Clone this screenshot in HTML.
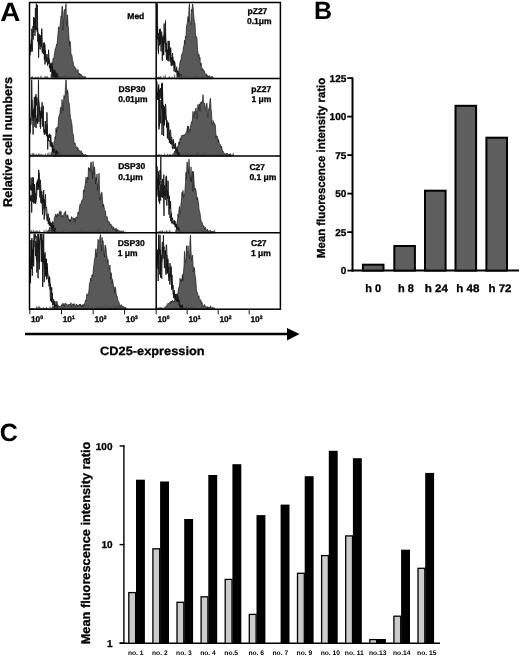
<!DOCTYPE html>
<html><head><meta charset="utf-8"><style>
html,body{margin:0;padding:0;background:#fff;}
svg{display:block;filter:grayscale(1);text-rendering:geometricPrecision;}
</style></head><body>
<svg width="520" height="657" viewBox="0 0 520 657">
<rect width="520" height="657" fill="#fff"/>
<text transform="translate(0.3,20.6) scale(1.05,1)" font-size="26.5" font-family="Liberation Sans, sans-serif" font-weight="bold">A</text>
<path d="M51.0,78.6L51.00,76.0L51.50,72.6L52.00,68.8L52.50,65.0L53.00,58.2L53.50,58.2L54.00,57.6L54.50,53.3L55.00,50.5L55.50,47.8L56.00,48.0L56.50,44.1L57.00,45.3L57.50,38.4L58.00,33.9L58.50,26.8L59.00,28.8L59.50,27.9L60.00,26.2L60.50,20.5L61.00,16.0L61.50,16.9L62.00,6.2L62.50,6.5L63.00,29.7L63.50,22.9L64.00,11.0L64.50,10.1L65.00,9.1L65.50,10.7L66.00,3.7L66.50,25.2L67.00,23.1L67.50,14.7L68.00,24.7L68.50,28.7L69.00,38.1L69.50,45.5L70.00,41.1L70.50,44.4L71.00,54.7L71.50,54.6L72.00,55.7L72.50,60.9L73.00,61.6L73.50,64.7L74.00,65.6L74.50,67.7L75.00,67.1L75.50,68.6L76.00,68.4L76.50,71.6L77.00,71.7L77.50,70.5L78.00,69.4L78.50,74.0L79.00,75.2L79.50,73.1L80.00,73.8L80.50,75.4L81.00,74.3L81.50,74.8L82.00,75.7L82.50,77.0L83.00,76.3L83.50,77.4L84.00,77.2L84.50,76.8L84.5,78.6Z" fill="#595959" stroke="#1a1a1a" stroke-width="0.7" stroke-linejoin="bevel"/>
<path d="M29.80,54.6L30.20,55.2L30.60,44.0L31.00,52.0L31.40,50.1L31.80,28.8L32.20,36.2L32.60,34.6L33.00,26.2L33.40,32.7L33.80,30.2L34.20,20.7L34.60,22.8L35.00,35.8L35.40,8.2L35.80,23.9L36.20,30.2L36.60,26.4L37.00,24.6L37.40,4.9L37.80,41.4L38.20,33.1L38.60,57.6L39.00,40.5L39.40,34.3L39.80,47.7L40.20,49.4L40.60,38.4L41.00,37.9L41.40,37.2L41.80,28.6L42.20,45.7L42.60,52.2L43.00,48.6L43.40,43.3L43.80,47.5L44.20,42.3L44.60,45.3L45.00,64.5L45.40,50.4L45.80,59.7L46.20,62.1L46.60,55.2L47.00,54.0L47.40,56.4L47.80,61.3L48.20,63.9L48.60,49.8L49.00,59.8L49.40,68.1L49.80,66.3L50.20,63.4L50.60,71.8L51.00,63.6L51.40,67.5L51.80,67.3L52.20,66.3L52.60,75.9L53.00,72.0L53.40,76.6L53.80,69.9L54.20,72.1L54.60,74.1L55.00,70.5L55.40,78.6L55.80,72.2L56.20,74.7L56.60,77.3L57.00,76.4L57.40,72.9L57.80,78.5L58.20,78.1L58.60,76.7" fill="none" stroke="#141414" stroke-width="0.9" stroke-linejoin="bevel"/>
<path d="M30.00,51.7L30.40,44.2L30.80,49.3L31.20,41.0L31.60,39.2L32.00,46.7L32.40,51.4L32.80,34.2L33.20,39.5L33.60,17.1L34.00,27.6L34.40,17.9L34.80,19.2L35.20,18.2L35.60,29.9L36.00,12.3L36.40,3.7L36.80,19.7L37.20,32.2L37.60,27.8L38.00,34.7L38.40,43.3L38.80,40.2L39.20,44.1L39.60,36.3L40.00,44.9L40.40,44.1L40.80,35.0L41.20,47.2L41.60,31.9L42.00,50.3L42.40,53.1L42.80,52.8L43.20,48.6L43.60,54.1L44.00,45.6L44.40,59.8L44.80,44.4L45.20,54.8L45.60,58.6L46.00,57.7L46.40,59.8L46.80,60.1L47.20,62.2L47.60,65.5L48.00,58.9L48.40,62.5L48.80,58.0L49.20,63.1L49.60,60.6L50.00,64.6L50.40,71.5L50.80,66.1L51.20,70.5L51.60,66.1L52.00,62.6L52.40,76.5L52.80,69.2L53.20,73.3L53.60,69.8L54.00,77.0L54.40,76.1L54.80,72.6L55.20,75.9L55.60,75.1L56.00,75.6L56.40,76.1L56.80,75.1L57.20,77.5L57.60,78.0L58.00,75.9L58.40,78.6L58.80,76.0" fill="none" stroke="#141414" stroke-width="0.9" stroke-linejoin="bevel"/>
<path d="M30.5,78.6L30.5,78.2L31.0,78.0L31.5,76.4L32.0,77.8L32.5,76.0L33.0,78.3L33.5,78.3L34.0,77.6L34.5,77.7L35.0,78.5L35.5,76.9L36.0,76.9L36.5,77.8L37.0,77.6L37.5,77.0L38.0,76.5L38.5,77.3L39.0,78.1L39.5,78.0L40.0,78.5L40.5,77.3L41.0,75.4L41.5,77.2L42.0,78.2L42.5,78.5L43.0,77.9L43.5,77.4L44.0,78.3L44.5,78.3L45.0,75.8L45.5,78.5L46.0,76.6L46.5,75.9L47.0,78.5L47.5,76.2L48.0,77.5L48.5,78.0L49.0,78.2L49.5,78.6L50.0,78.3L50.5,78.3L51.0,78.4L51.5,77.9L52.0,77.3L52.5,78.6L53.0,76.3L53.5,78.2L54.0,77.7L54.5,78.4L55.0,78.2L55.5,77.7L56.0,77.6L56.5,78.2L57.0,77.8L57.5,77.1L58.0,78.0L58.5,74.8L59.0,78.5L59.5,77.1L60.0,76.7L60.5,78.4L61.0,77.4L61.5,76.8L62.0,78.4L62.5,76.9L63.0,78.2L63.5,78.3L64.0,78.0L64.5,77.8L65.0,75.4L65.5,78.3L66.0,78.6L66.5,76.5L67.0,75.3L67.5,76.5L68.0,77.0L68.5,76.8L69.0,76.9L69.5,77.3L70.0,77.6L70.5,77.7L71.0,78.2L71.5,76.6L72.0,77.7L72.5,76.1L73.0,76.7L73.5,77.4L74.0,78.4L74.5,77.4L75.0,78.2L75.5,77.5L76.0,77.0L76.5,77.2L77.0,77.7L77.5,76.2L78.0,76.3L78.5,75.2L79.0,77.4L79.5,78.5L80.0,76.5L80.5,76.4L81.0,75.6L81.5,76.7L82.0,77.7L82.5,77.7L83.0,77.7L83.5,78.2L84.0,76.7L84.5,77.7L85.0,75.8L85.5,76.8L86.0,77.1L86.5,78.6L86.5,78.6Z" fill="#666" stroke="#333" stroke-width="0.3"/>
<path d="M176.5,78.6L176.50,78.0L177.00,76.9L177.50,75.2L178.00,75.5L178.50,72.8L179.00,68.4L179.50,66.7L180.00,62.1L180.50,60.2L181.00,60.9L181.50,54.6L182.00,54.6L182.50,53.0L183.00,51.4L183.50,46.4L184.00,46.6L184.50,40.2L185.00,44.1L185.50,36.0L186.00,37.8L186.50,25.4L187.00,25.4L187.50,21.1L188.00,16.5L188.50,21.9L189.00,7.6L189.50,3.7L190.00,20.9L190.50,24.2L191.00,24.8L191.50,9.5L192.00,11.4L192.50,4.0L193.00,6.0L193.50,12.8L194.00,18.5L194.50,22.5L195.00,23.0L195.50,35.3L196.00,37.1L196.50,36.6L197.00,38.2L197.50,49.7L198.00,52.6L198.50,56.2L199.00,54.4L199.50,58.8L200.00,57.5L200.50,65.7L201.00,63.0L201.50,66.1L202.00,70.6L202.50,68.6L203.00,68.8L203.50,70.7L204.00,70.4L204.50,71.0L205.00,73.1L205.50,74.6L206.00,75.8L206.50,73.8L207.00,75.8L207.50,75.3L208.00,77.8L208.50,75.9L209.00,77.1L209.50,76.1L210.00,76.6L210.50,77.1L211.00,76.9L211.50,77.5L212.00,76.1L212.50,78.4L212.5,78.6Z" fill="#595959" stroke="#1a1a1a" stroke-width="0.7" stroke-linejoin="bevel"/>
<path d="M156.90,50.7L157.30,3.7L157.70,34.0L158.10,39.8L158.50,53.9L158.90,37.9L159.30,45.5L159.70,39.7L160.10,34.6L160.50,44.3L160.90,42.1L161.30,34.1L161.70,38.7L162.10,39.0L162.50,46.2L162.90,36.7L163.30,35.6L163.70,55.0L164.10,23.5L164.50,33.6L164.90,42.8L165.30,32.8L165.70,39.2L166.10,51.4L166.50,59.8L166.90,50.8L167.30,49.7L167.70,58.6L168.10,40.9L168.50,48.3L168.90,61.3L169.30,46.9L169.70,55.2L170.10,48.1L170.50,52.3L170.90,64.0L171.30,66.1L171.70,59.3L172.10,60.1L172.50,53.0L172.90,59.1L173.30,65.3L173.70,60.8L174.10,71.5L174.50,61.3L174.90,62.6L175.30,66.2L175.70,67.7L176.10,72.4L176.50,69.1L176.90,70.0L177.30,72.7L177.70,71.5L178.10,72.9L178.50,74.8L178.90,72.8L179.30,74.0L179.70,74.3L180.10,74.6L180.50,73.9L180.90,74.5L181.30,76.0" fill="none" stroke="#141414" stroke-width="0.9" stroke-linejoin="bevel"/>
<path d="M157.10,39.1L157.50,26.5L157.90,39.5L158.30,34.8L158.70,33.2L159.10,40.8L159.50,29.2L159.90,42.2L160.30,28.8L160.70,35.3L161.10,51.3L161.50,31.6L161.90,33.2L162.30,60.7L162.70,42.0L163.10,38.1L163.50,55.2L163.90,45.7L164.30,41.9L164.70,32.4L165.10,39.6L165.50,20.6L165.90,52.1L166.30,42.9L166.70,51.4L167.10,49.7L167.50,59.6L167.90,60.9L168.30,56.1L168.70,45.1L169.10,40.9L169.50,45.2L169.90,49.6L170.30,61.5L170.70,47.7L171.10,56.6L171.50,59.2L171.90,57.4L172.30,65.3L172.70,57.0L173.10,62.0L173.50,60.0L173.90,61.8L174.30,62.7L174.70,69.0L175.10,69.7L175.50,72.0L175.90,70.9L176.30,69.0L176.70,66.8L177.10,76.1L177.50,70.9L177.90,71.4L178.30,76.2L178.70,78.0L179.10,76.7L179.50,75.5L179.90,75.7L180.30,78.6L180.70,77.7L181.10,78.6L181.50,78.6" fill="none" stroke="#141414" stroke-width="0.9" stroke-linejoin="bevel"/>
<path d="M157.2,78.6L157.2,77.2L157.7,77.7L158.2,77.1L158.7,76.7L159.2,76.7L159.7,77.4L160.2,76.7L160.7,75.9L161.2,78.2L161.7,77.2L162.2,78.0L162.7,78.5L163.2,77.4L163.7,75.7L164.2,78.5L164.7,78.2L165.2,74.7L165.7,77.8L166.2,77.7L166.7,77.9L167.2,78.4L167.7,78.2L168.2,77.3L168.7,78.1L169.2,76.6L169.7,76.4L170.2,78.2L170.7,78.3L171.2,77.5L171.7,77.9L172.2,76.5L172.7,77.3L173.2,78.6L173.7,78.1L174.2,77.3L174.7,74.0L175.2,77.7L175.7,78.4L176.2,78.3L176.7,78.0L177.2,76.6L177.7,77.9L178.2,76.6L178.7,76.9L179.2,77.0L179.7,77.0L180.2,77.6L180.7,74.5L181.2,78.0L181.7,77.2L182.2,75.7L182.7,76.7L183.2,77.7L183.7,77.1L184.2,76.8L184.7,77.6L185.2,78.3L185.7,76.4L186.2,76.0L186.7,77.8L187.2,77.2L187.7,76.3L188.2,76.7L188.7,77.2L189.2,77.5L189.7,78.3L190.2,77.8L190.7,77.7L191.2,78.2L191.7,78.3L192.2,78.0L192.7,77.4L193.2,77.7L193.7,77.9L194.2,78.0L194.7,76.8L195.2,76.3L195.7,78.5L196.2,74.0L196.7,77.6L197.2,77.3L197.7,77.9L198.2,78.2L198.7,77.3L199.2,77.4L199.7,78.4L200.2,78.4L200.7,78.4L201.2,77.7L201.7,77.1L202.2,77.3L202.7,78.2L203.2,78.1L203.7,76.9L204.2,77.5L204.7,77.8L205.2,77.6L205.7,78.1L206.2,76.7L206.7,77.7L207.2,77.4L207.7,77.5L208.2,78.3L208.7,77.9L209.2,75.0L209.7,76.9L210.2,78.3L210.7,78.1L211.2,77.3L211.7,77.8L212.2,76.5L212.7,77.9L213.2,77.5L213.7,77.4L214.2,77.9L214.7,77.9L214.7,78.6Z" fill="#666" stroke="#333" stroke-width="0.3"/>
<path d="M51.0,155.9L51.00,155.5L51.50,153.7L52.00,151.8L52.50,152.1L53.00,150.2L53.50,148.3L54.00,141.3L54.50,141.4L55.00,136.7L55.50,138.6L56.00,128.2L56.50,132.6L57.00,126.9L57.50,128.4L58.00,127.1L58.50,119.0L59.00,115.7L59.50,115.3L60.00,113.1L60.50,107.4L61.00,112.8L61.50,110.5L62.00,99.4L62.50,104.7L63.00,111.0L63.50,101.6L64.00,95.3L64.50,97.8L65.00,97.0L65.50,85.8L66.00,79.8L66.50,87.3L67.00,94.2L67.50,90.1L68.00,92.4L68.50,102.0L69.00,102.5L69.50,105.3L70.00,113.2L70.50,117.9L71.00,119.3L71.50,122.4L72.00,124.7L72.50,132.8L73.00,133.7L73.50,136.1L74.00,142.8L74.50,143.6L75.00,142.7L75.50,145.7L76.00,146.1L76.50,146.8L77.00,147.5L77.50,147.6L78.00,147.6L78.50,151.0L79.00,149.8L79.50,151.6L80.00,151.9L80.50,152.1L81.00,150.6L81.50,151.3L82.00,154.1L82.50,152.9L83.00,154.1L83.50,154.5L84.00,155.1L84.50,155.0L85.00,155.3L85.50,154.6L85.5,155.9Z" fill="#595959" stroke="#1a1a1a" stroke-width="0.7" stroke-linejoin="bevel"/>
<path d="M29.90,131.7L30.30,133.2L30.70,121.0L31.10,118.4L31.50,106.8L31.90,99.9L32.30,109.0L32.70,121.3L33.10,134.6L33.50,113.2L33.90,107.9L34.30,97.3L34.70,99.5L35.10,118.1L35.50,117.6L35.90,94.2L36.30,105.5L36.70,97.3L37.10,97.4L37.50,123.3L37.90,109.0L38.30,99.9L38.70,100.8L39.10,103.2L39.50,107.9L39.90,111.2L40.30,127.0L40.70,111.2L41.10,117.6L41.50,112.6L41.90,118.3L42.30,111.3L42.70,115.6L43.10,121.2L43.50,122.7L43.90,128.6L44.30,134.8L44.70,129.5L45.10,134.3L45.50,130.5L45.90,132.2L46.30,128.9L46.70,136.3L47.10,124.8L47.50,138.6L47.90,138.0L48.30,134.6L48.70,140.9L49.10,139.9L49.50,142.0L49.90,142.5L50.30,146.5L50.70,135.0L51.10,143.6L51.50,146.8L51.90,142.5L52.30,152.0L52.70,145.1L53.10,149.0L53.50,150.8L53.90,149.2L54.30,148.9L54.70,150.0L55.10,151.8L55.50,153.5L55.90,153.1L56.30,152.8L56.70,154.5L57.10,153.4L57.50,155.9L57.90,154.7" fill="none" stroke="#141414" stroke-width="0.9" stroke-linejoin="bevel"/>
<path d="M30.10,121.5L30.50,118.0L30.90,124.4L31.30,115.5L31.70,79.8L32.10,101.4L32.50,116.9L32.90,110.8L33.30,120.5L33.70,109.3L34.10,117.7L34.50,106.1L34.90,126.8L35.30,96.3L35.70,119.2L36.10,128.1L36.50,118.4L36.90,120.9L37.30,114.9L37.70,123.6L38.10,103.0L38.50,79.8L38.90,121.8L39.30,107.0L39.70,114.8L40.10,113.6L40.50,128.7L40.90,123.5L41.30,107.2L41.70,113.5L42.10,102.3L42.50,126.5L42.90,122.2L43.30,105.8L43.70,128.8L44.10,132.4L44.50,129.0L44.90,133.2L45.30,121.0L45.70,131.3L46.10,133.6L46.50,129.4L46.90,112.4L47.30,122.3L47.70,149.5L48.10,135.2L48.50,140.8L48.90,136.4L49.30,138.0L49.70,133.7L50.10,136.6L50.50,136.6L50.90,141.5L51.30,142.9L51.70,144.9L52.10,142.6L52.50,144.9L52.90,151.9L53.30,150.0L53.70,152.8L54.10,152.2L54.50,152.0L54.90,151.5L55.30,152.3L55.70,155.9L56.10,152.7L56.50,150.2L56.90,153.8L57.30,150.9L57.70,154.6L58.10,152.2" fill="none" stroke="#141414" stroke-width="0.9" stroke-linejoin="bevel"/>
<path d="M30.5,155.9L30.5,154.0L31.0,155.7L31.5,155.8L32.0,153.4L32.5,154.8L33.0,152.7L33.5,153.7L34.0,153.2L34.5,154.9L35.0,155.2L35.5,155.6L36.0,153.7L36.5,154.0L37.0,155.2L37.5,154.8L38.0,155.5L38.5,153.6L39.0,155.4L39.5,154.5L40.0,153.3L40.5,155.2L41.0,155.7L41.5,154.3L42.0,153.9L42.5,155.2L43.0,154.8L43.5,155.2L44.0,155.4L44.5,155.4L45.0,154.3L45.5,153.4L46.0,155.5L46.5,155.6L47.0,155.0L47.5,153.1L48.0,155.9L48.5,154.3L49.0,152.3L49.5,154.8L50.0,155.7L50.5,155.6L51.0,152.1L51.5,154.8L52.0,153.5L52.5,154.8L53.0,154.9L53.5,154.8L54.0,153.6L54.5,154.5L55.0,153.9L55.5,155.6L56.0,155.8L56.5,154.7L57.0,153.6L57.5,155.8L58.0,154.3L58.5,154.0L59.0,154.4L59.5,155.3L60.0,152.8L60.5,155.7L61.0,154.4L61.5,155.4L62.0,154.1L62.5,154.3L63.0,154.8L63.5,155.4L64.0,155.0L64.5,155.4L65.0,154.1L65.5,155.6L66.0,155.3L66.5,154.0L67.0,154.2L67.5,154.8L68.0,155.4L68.5,155.5L69.0,154.4L69.5,154.4L70.0,154.7L70.5,155.4L71.0,155.5L71.5,154.8L72.0,154.8L72.5,154.7L73.0,155.6L73.5,154.3L74.0,155.5L74.5,155.7L75.0,155.2L75.5,155.8L76.0,154.7L76.5,154.0L77.0,153.8L77.5,154.7L78.0,155.7L78.5,153.8L79.0,155.0L79.5,154.0L80.0,154.3L80.5,154.6L81.0,153.6L81.5,154.7L82.0,155.2L82.5,154.5L83.0,154.2L83.5,155.6L84.0,155.9L84.5,155.2L85.0,154.5L85.5,154.5L86.0,154.6L86.5,155.2L87.0,155.4L87.5,155.0L87.5,155.9Z" fill="#666" stroke="#333" stroke-width="0.3"/>
<path d="M173.5,155.9L173.50,155.8L174.00,153.1L174.50,151.0L175.00,151.5L175.50,149.9L176.00,149.2L176.50,147.4L177.00,148.9L177.50,146.3L178.00,146.8L178.50,143.7L179.00,141.8L179.50,144.3L180.00,138.7L180.50,140.0L181.00,137.0L181.50,136.3L182.00,135.1L182.50,135.7L183.00,135.4L183.50,134.7L184.00,135.8L184.50,134.9L185.00,134.1L185.50,134.4L186.00,132.5L186.50,132.0L187.00,129.8L187.50,125.9L188.00,132.8L188.50,126.1L189.00,128.8L189.50,129.6L190.00,131.3L190.50,125.7L191.00,124.2L191.50,121.7L192.00,122.5L192.50,117.9L193.00,111.3L193.50,117.0L194.00,117.7L194.50,111.5L195.00,114.2L195.50,109.4L196.00,107.9L196.50,112.1L197.00,118.8L197.50,110.8L198.00,104.4L198.50,109.2L199.00,105.6L199.50,103.8L200.00,111.2L200.50,103.2L201.00,101.9L201.50,103.9L202.00,101.3L202.50,101.8L203.00,94.7L203.50,102.8L204.00,103.5L204.50,103.0L205.00,107.2L205.50,108.9L206.00,106.9L206.50,103.6L207.00,103.1L207.50,114.9L208.00,117.1L208.50,109.1L209.00,108.5L209.50,106.1L210.00,100.2L210.50,98.3L211.00,109.1L211.50,111.9L212.00,123.5L212.50,125.0L213.00,120.5L213.50,122.2L214.00,122.4L214.50,123.9L215.00,124.0L215.50,126.9L216.00,138.1L216.50,135.6L217.00,135.9L217.50,136.4L218.00,142.1L218.50,139.3L219.00,142.0L219.50,143.6L220.00,144.3L220.50,144.8L221.00,147.7L221.50,146.1L222.00,148.8L222.50,150.9L223.00,151.0L223.50,151.9L224.00,153.4L224.50,153.4L225.00,154.1L225.50,155.4L226.00,153.6L226.50,153.9L227.00,153.0L227.50,153.9L228.00,153.7L228.50,155.6L229.00,154.3L229.50,154.0L230.00,155.9L230.50,153.6L231.00,155.3L231.50,155.6L231.5,155.9Z" fill="#595959" stroke="#1a1a1a" stroke-width="0.7" stroke-linejoin="bevel"/>
<path d="M157.00,81.7L157.40,95.8L157.80,92.9L158.20,99.8L158.60,87.3L159.00,129.4L159.40,106.4L159.80,100.2L160.20,108.7L160.60,123.3L161.00,100.0L161.40,108.8L161.80,93.6L162.20,84.2L162.60,102.7L163.00,125.1L163.40,104.9L163.80,123.0L164.20,111.1L164.60,106.5L165.00,117.6L165.40,103.9L165.80,105.9L166.20,118.4L166.60,127.5L167.00,120.4L167.40,138.4L167.80,123.1L168.20,129.6L168.60,122.6L169.00,129.5L169.40,142.9L169.80,130.3L170.20,130.0L170.60,129.9L171.00,136.4L171.40,144.4L171.80,139.7L172.20,147.0L172.60,149.1L173.00,144.8L173.40,139.5L173.80,148.4L174.20,147.1L174.60,147.3L175.00,148.9L175.40,143.1L175.80,148.0L176.20,150.3L176.60,150.6L177.00,148.9L177.40,152.5L177.80,155.9L178.20,155.2L178.60,153.8L179.00,152.2L179.40,154.6" fill="none" stroke="#141414" stroke-width="0.9" stroke-linejoin="bevel"/>
<path d="M157.20,91.9L157.60,99.9L158.00,98.1L158.40,86.1L158.80,84.5L159.20,126.6L159.60,89.6L160.00,96.6L160.40,88.1L160.80,98.7L161.20,96.0L161.60,83.5L162.00,135.0L162.40,82.8L162.80,99.9L163.20,124.9L163.60,136.0L164.00,108.5L164.40,125.3L164.80,108.7L165.20,116.2L165.60,119.5L166.00,117.0L166.40,121.0L166.80,121.6L167.20,122.5L167.60,123.9L168.00,126.4L168.40,123.9L168.80,139.9L169.20,136.5L169.60,132.4L170.00,134.1L170.40,140.6L170.80,144.0L171.20,136.8L171.60,137.4L172.00,139.1L172.40,144.2L172.80,144.6L173.20,143.7L173.60,141.3L174.00,145.9L174.40,148.6L174.80,144.4L175.20,145.5L175.60,146.4L176.00,153.4L176.40,152.8L176.80,151.3L177.20,151.6L177.60,150.3L178.00,154.1L178.40,154.2L178.80,155.7L179.20,153.6L179.60,154.3" fill="none" stroke="#141414" stroke-width="0.9" stroke-linejoin="bevel"/>
<path d="M157.2,155.9L157.2,155.5L157.7,154.5L158.2,154.7L158.7,155.0L159.2,154.0L159.7,155.8L160.2,154.7L160.7,155.6L161.2,155.3L161.7,154.2L162.2,155.7L162.7,155.5L163.2,155.0L163.7,155.3L164.2,155.9L164.7,153.0L165.2,155.1L165.7,155.5L166.2,155.0L166.7,155.9L167.2,155.1L167.7,153.4L168.2,155.0L168.7,155.5L169.2,154.9L169.7,154.3L170.2,155.5L170.7,153.9L171.2,154.6L171.7,155.9L172.2,155.7L172.7,153.1L173.2,154.7L173.7,155.6L174.2,153.8L174.7,155.7L175.2,155.2L175.7,155.5L176.2,155.0L176.7,153.8L177.2,155.4L177.7,155.3L178.2,155.3L178.7,155.4L179.2,155.1L179.7,155.6L180.2,153.2L180.7,155.7L181.2,155.3L181.7,155.3L182.2,155.4L182.7,155.5L183.2,153.9L183.7,155.7L184.2,154.3L184.7,155.6L185.2,155.5L185.7,153.1L186.2,154.5L186.7,152.7L187.2,155.7L187.7,153.6L188.2,154.5L188.7,155.0L189.2,154.6L189.7,154.7L190.2,155.6L190.7,153.9L191.2,155.5L191.7,154.3L192.2,153.6L192.7,154.4L193.2,155.8L193.7,155.5L194.2,155.8L194.7,154.8L195.2,153.6L195.7,153.0L196.2,154.6L196.7,154.7L197.2,152.4L197.7,155.6L198.2,153.8L198.7,153.7L199.2,151.6L199.7,153.5L200.2,155.1L200.7,155.7L201.2,153.6L201.7,155.8L202.2,155.4L202.7,154.6L203.2,155.6L203.7,152.8L204.2,155.8L204.7,155.1L205.2,152.5L205.7,153.7L206.2,155.2L206.7,153.6L207.2,155.4L207.7,154.8L208.2,154.0L208.7,155.0L209.2,155.8L209.7,154.6L210.2,155.9L210.7,155.0L211.2,154.7L211.7,155.4L212.2,154.1L212.7,155.8L213.2,155.1L213.7,153.7L214.2,155.2L214.7,153.9L215.2,155.8L215.7,155.5L216.2,155.5L216.7,155.6L217.2,154.3L217.7,155.8L218.2,155.7L218.7,154.1L219.2,155.0L219.7,155.7L220.2,153.4L220.7,154.2L221.2,155.1L221.7,155.7L222.2,155.2L222.7,153.8L223.2,155.6L223.7,155.1L224.2,153.7L224.7,155.1L225.2,154.4L225.7,153.5L226.2,155.2L226.7,154.1L227.2,154.7L227.7,155.4L228.2,154.7L228.7,154.6L229.2,155.2L229.7,155.0L230.2,155.8L230.7,154.4L231.2,155.5L231.7,155.4L232.2,154.5L232.7,155.2L233.2,152.9L233.7,153.7L233.7,155.9Z" fill="#666" stroke="#333" stroke-width="0.3"/>
<path d="M47.5,232.8L47.50,231.4L48.00,231.6L48.50,230.1L49.00,230.3L49.50,227.5L50.00,227.5L50.50,227.9L51.00,226.9L51.50,224.1L52.00,222.8L52.50,221.5L53.00,221.9L53.50,223.4L54.00,221.3L54.50,217.2L55.00,216.4L55.50,214.1L56.00,215.0L56.50,217.4L57.00,213.8L57.50,214.2L58.00,214.4L58.50,216.4L59.00,213.2L59.50,211.9L60.00,210.9L60.50,213.7L61.00,211.5L61.50,216.9L62.00,215.5L62.50,215.3L63.00,217.2L63.50,216.4L64.00,213.7L64.50,212.8L65.00,212.7L65.50,211.0L66.00,214.6L66.50,215.6L67.00,217.3L67.50,214.7L68.00,215.9L68.50,219.2L69.00,218.9L69.50,221.6L70.00,219.4L70.50,221.5L71.00,218.7L71.50,216.6L72.00,218.0L72.50,218.2L73.00,217.7L73.50,218.1L74.00,220.1L74.50,218.3L75.00,222.3L75.50,219.0L76.00,216.8L76.50,217.2L77.00,218.3L77.50,216.2L78.00,212.0L78.50,214.0L79.00,211.7L79.50,206.5L80.00,204.2L80.50,204.2L81.00,203.5L81.50,201.2L82.00,200.2L82.50,199.4L83.00,199.4L83.50,189.8L84.00,192.1L84.50,190.1L85.00,185.5L85.50,183.0L86.00,177.3L86.50,182.3L87.00,182.5L87.50,177.1L88.00,180.0L88.50,167.5L89.00,169.8L89.50,168.1L90.00,171.6L90.50,165.7L91.00,161.9L91.50,164.5L92.00,170.4L92.50,178.5L93.00,161.5L93.50,170.3L94.00,174.6L94.50,166.8L95.00,172.5L95.50,183.9L96.00,177.3L96.50,180.2L97.00,174.0L97.50,190.4L98.00,183.5L98.50,182.7L99.00,173.2L99.50,188.3L100.00,200.3L100.50,196.4L101.00,193.7L101.50,192.6L102.00,192.5L102.50,200.1L103.00,207.0L103.50,204.3L104.00,206.6L104.50,209.7L105.00,210.5L105.50,210.9L106.00,216.2L106.50,217.0L107.00,216.5L107.50,218.7L108.00,221.6L108.50,221.4L109.00,221.6L109.50,222.1L110.00,223.6L110.50,225.0L111.00,224.1L111.50,227.1L112.00,225.8L112.50,227.7L113.00,229.3L113.50,226.8L114.00,227.9L114.50,230.1L115.00,229.2L115.50,228.5L116.00,231.2L116.50,228.5L117.00,231.6L117.50,229.8L118.00,229.7L118.50,230.8L119.00,230.6L119.50,231.4L120.00,231.3L120.50,231.1L121.00,232.6L121.50,232.1L122.00,231.8L122.50,231.6L123.00,231.6L123.50,231.7L123.5,232.8Z" fill="#595959" stroke="#1a1a1a" stroke-width="0.7" stroke-linejoin="bevel"/>
<path d="M29.90,184.2L30.30,186.4L30.70,189.9L31.10,177.6L31.50,190.7L31.90,188.3L32.30,183.0L32.70,202.0L33.10,192.9L33.50,178.1L33.90,203.6L34.30,185.2L34.70,202.8L35.10,193.0L35.50,203.5L35.90,200.8L36.30,199.0L36.70,196.6L37.10,181.3L37.50,184.1L37.90,179.4L38.30,187.2L38.70,169.8L39.10,173.4L39.50,182.1L39.90,197.5L40.30,179.8L40.70,184.5L41.10,193.4L41.50,194.7L41.90,191.5L42.30,201.6L42.70,197.8L43.10,199.8L43.50,199.8L43.90,208.9L44.30,209.6L44.70,199.1L45.10,198.6L45.50,194.3L45.90,212.4L46.30,215.6L46.70,215.2L47.10,221.1L47.50,220.5L47.90,219.4L48.30,223.8L48.70,220.8L49.10,222.3L49.50,217.8L49.90,224.9L50.30,223.4L50.70,222.4L51.10,227.1L51.50,227.4L51.90,223.1L52.30,228.3L52.70,225.6L53.10,227.8L53.50,225.0L53.90,225.8L54.30,231.2L54.70,229.3L55.10,231.0L55.50,231.7" fill="none" stroke="#141414" stroke-width="0.9" stroke-linejoin="bevel"/>
<path d="M30.10,200.9L30.50,195.6L30.90,201.0L31.30,195.2L31.70,212.6L32.10,193.1L32.50,179.3L32.90,177.0L33.30,180.3L33.70,187.0L34.10,202.3L34.50,184.2L34.90,190.7L35.30,195.2L35.70,203.4L36.10,196.9L36.50,182.9L36.90,186.4L37.30,189.7L37.70,181.3L38.10,189.9L38.50,187.2L38.90,173.1L39.30,184.6L39.70,187.4L40.10,186.6L40.50,196.7L40.90,202.8L41.30,191.1L41.70,203.6L42.10,198.5L42.50,214.5L42.90,194.8L43.30,202.2L43.70,190.0L44.10,219.5L44.50,216.9L44.90,199.5L45.30,204.7L45.70,206.4L46.10,207.9L46.50,207.0L46.90,210.8L47.30,219.4L47.70,216.2L48.10,213.6L48.50,215.7L48.90,223.1L49.30,225.5L49.70,221.5L50.10,225.9L50.50,226.3L50.90,223.6L51.30,225.8L51.70,223.8L52.10,232.8L52.50,228.8L52.90,226.4L53.30,228.0L53.70,232.8L54.10,231.2L54.50,231.3L54.90,228.4L55.30,229.6L55.70,228.3" fill="none" stroke="#141414" stroke-width="0.9" stroke-linejoin="bevel"/>
<path d="M30.5,232.8L30.5,231.1L31.0,232.1L31.5,229.8L32.0,232.0L32.5,232.4L33.0,230.7L33.5,229.7L34.0,231.6L34.5,232.3L35.0,231.1L35.5,231.1L36.0,232.2L36.5,230.2L37.0,232.1L37.5,231.2L38.0,230.9L38.5,232.2L39.0,231.9L39.5,230.0L40.0,232.8L40.5,231.7L41.0,232.3L41.5,232.7L42.0,232.7L42.5,232.7L43.0,232.6L43.5,232.3L44.0,229.9L44.5,231.9L45.0,232.4L45.5,232.4L46.0,229.5L46.5,231.3L47.0,232.4L47.5,230.8L48.0,231.8L48.5,230.4L49.0,232.3L49.5,230.4L50.0,230.9L50.5,230.9L51.0,230.3L51.5,232.0L52.0,230.2L52.5,232.7L53.0,231.2L53.5,230.8L54.0,232.7L54.5,232.1L55.0,232.2L55.5,232.5L56.0,231.7L56.5,231.9L57.0,231.4L57.5,231.6L58.0,232.4L58.5,231.3L59.0,232.1L59.5,232.0L60.0,231.8L60.5,232.8L61.0,232.4L61.5,231.7L62.0,232.5L62.5,232.8L63.0,229.9L63.5,232.8L64.0,230.8L64.5,229.7L65.0,229.8L65.5,230.3L66.0,231.5L66.5,230.7L67.0,232.6L67.5,232.0L68.0,232.7L68.5,232.7L69.0,232.0L69.5,231.9L70.0,232.1L70.5,231.2L71.0,231.7L71.5,232.1L72.0,232.7L72.5,231.0L73.0,231.6L73.5,231.5L74.0,231.1L74.5,232.2L75.0,231.9L75.5,231.7L76.0,232.4L76.5,231.9L77.0,232.7L77.5,229.8L78.0,231.9L78.5,231.4L79.0,231.6L79.5,232.7L80.0,231.4L80.5,231.3L81.0,231.8L81.5,228.4L82.0,232.5L82.5,231.5L83.0,232.1L83.5,230.9L84.0,232.5L84.5,232.3L85.0,231.4L85.5,232.2L86.0,232.2L86.5,230.8L87.0,231.9L87.5,231.5L88.0,231.1L88.5,231.6L89.0,231.9L89.5,232.2L90.0,229.6L90.5,231.0L91.0,232.5L91.5,231.5L92.0,231.6L92.5,230.5L93.0,231.9L93.5,232.2L94.0,231.7L94.5,232.6L95.0,230.1L95.5,230.2L96.0,231.8L96.5,232.3L97.0,230.3L97.5,231.2L98.0,232.2L98.5,232.5L99.0,228.1L99.5,231.6L100.0,232.7L100.5,231.6L101.0,231.8L101.5,232.1L102.0,232.1L102.5,232.4L103.0,232.2L103.5,230.1L104.0,232.5L104.5,232.3L105.0,231.8L105.5,232.3L106.0,231.1L106.5,232.4L107.0,232.2L107.5,228.7L108.0,231.8L108.5,231.3L109.0,232.3L109.5,232.6L110.0,231.8L110.5,230.8L111.0,232.1L111.5,232.6L112.0,231.9L112.5,231.9L113.0,232.8L113.5,232.1L114.0,231.7L114.5,232.6L115.0,231.2L115.5,231.6L116.0,232.2L116.5,232.1L117.0,231.7L117.5,231.8L118.0,232.7L118.5,231.5L119.0,230.6L119.5,232.2L120.0,230.3L120.5,231.6L121.0,230.9L121.5,231.1L122.0,230.4L122.5,231.3L123.0,231.9L123.5,230.2L124.0,232.8L124.5,232.7L125.0,231.6L125.5,231.8L125.5,232.8Z" fill="#666" stroke="#333" stroke-width="0.3"/>
<path d="M176.0,232.8L176.00,232.1L176.50,227.8L177.00,222.5L177.50,219.9L178.00,214.0L178.50,217.0L179.00,209.4L179.50,206.4L180.00,213.0L180.50,211.4L181.00,203.3L181.50,200.0L182.00,192.2L182.50,195.7L183.00,190.4L183.50,197.3L184.00,195.0L184.50,195.7L185.00,190.0L185.50,182.4L186.00,172.2L186.50,179.0L187.00,161.9L187.50,163.9L188.00,170.0L188.50,173.5L189.00,159.1L189.50,172.2L190.00,178.1L190.50,180.7L191.00,166.8L191.50,182.0L192.00,174.7L192.50,171.0L193.00,191.2L193.50,171.6L194.00,181.5L194.50,189.0L195.00,189.7L195.50,188.2L196.00,191.0L196.50,194.2L197.00,200.0L197.50,197.5L198.00,200.5L198.50,203.0L199.00,208.9L199.50,211.5L200.00,213.1L200.50,216.9L201.00,220.5L201.50,222.4L202.00,222.1L202.50,224.3L203.00,225.8L203.50,225.8L204.00,225.9L204.50,229.3L205.00,228.0L205.50,227.4L206.00,229.4L206.50,230.3L207.00,230.5L207.50,229.1L208.00,231.5L208.50,230.8L209.00,231.7L209.50,231.7L210.00,230.3L210.50,230.6L211.00,230.7L211.50,231.2L212.00,232.7L212.50,231.4L213.00,230.9L213.50,232.8L213.5,232.8Z" fill="#595959" stroke="#1a1a1a" stroke-width="0.7" stroke-linejoin="bevel"/>
<path d="M157.00,195.1L157.40,178.6L157.80,180.8L158.20,197.0L158.60,179.3L159.00,174.5L159.40,184.9L159.80,180.5L160.20,181.1L160.60,200.5L161.00,184.5L161.40,196.8L161.80,196.4L162.20,183.5L162.60,178.9L163.00,197.6L163.40,183.5L163.80,174.7L164.20,194.1L164.60,195.4L165.00,191.2L165.40,194.0L165.80,196.1L166.20,177.1L166.60,178.6L167.00,191.8L167.40,192.6L167.80,193.2L168.20,198.7L168.60,202.0L169.00,214.6L169.40,195.9L169.80,208.0L170.20,208.5L170.60,201.2L171.00,214.8L171.40,212.7L171.80,223.4L172.20,219.1L172.60,217.7L173.00,222.2L173.40,224.3L173.80,223.2L174.20,220.0L174.60,224.8L175.00,221.3L175.40,226.5L175.80,226.3L176.20,226.5L176.60,224.3L177.00,228.9L177.40,228.7L177.80,226.8L178.20,228.4L178.60,232.8L179.00,228.7L179.40,228.8" fill="none" stroke="#141414" stroke-width="0.9" stroke-linejoin="bevel"/>
<path d="M157.20,166.2L157.60,173.6L158.00,189.6L158.40,171.4L158.80,201.5L159.20,190.6L159.60,203.7L160.00,170.0L160.40,179.7L160.80,157.1L161.20,182.1L161.60,181.5L162.00,195.1L162.40,197.7L162.80,192.6L163.20,182.6L163.60,199.4L164.00,215.8L164.40,185.2L164.80,190.0L165.20,200.1L165.60,189.4L166.00,177.5L166.40,175.8L166.80,205.6L167.20,190.3L167.60,198.6L168.00,180.7L168.40,191.6L168.80,200.6L169.20,203.3L169.60,203.4L170.00,218.0L170.40,214.6L170.80,221.2L171.20,215.3L171.60,220.6L172.00,221.0L172.40,223.0L172.80,223.4L173.20,222.6L173.60,222.3L174.00,222.5L174.40,222.1L174.80,221.1L175.20,227.3L175.60,223.8L176.00,226.9L176.40,226.2L176.80,229.4L177.20,227.8L177.60,227.8L178.00,228.3L178.40,227.9L178.80,228.9L179.20,229.3L179.60,229.4" fill="none" stroke="#141414" stroke-width="0.9" stroke-linejoin="bevel"/>
<path d="M157.2,232.8L157.2,231.8L157.7,232.3L158.2,231.2L158.7,231.7L159.2,231.6L159.7,231.1L160.2,232.2L160.7,230.6L161.2,231.4L161.7,231.0L162.2,230.5L162.7,230.6L163.2,231.9L163.7,232.0L164.2,232.5L164.7,230.9L165.2,232.6L165.7,232.6L166.2,229.9L166.7,230.8L167.2,232.2L167.7,231.2L168.2,231.5L168.7,232.7L169.2,231.7L169.7,229.8L170.2,231.0L170.7,232.7L171.2,232.6L171.7,232.2L172.2,231.4L172.7,232.5L173.2,232.5L173.7,232.3L174.2,232.0L174.7,232.4L175.2,232.4L175.7,229.9L176.2,231.0L176.7,231.7L177.2,230.4L177.7,230.8L178.2,230.6L178.7,230.6L179.2,232.6L179.7,231.3L180.2,230.5L180.7,232.7L181.2,232.4L181.7,231.3L182.2,231.9L182.7,232.6L183.2,232.8L183.7,230.3L184.2,232.6L184.7,231.1L185.2,231.4L185.7,231.3L186.2,232.1L186.7,232.7L187.2,231.8L187.7,232.0L188.2,230.4L188.7,231.5L189.2,232.5L189.7,232.0L190.2,232.4L190.7,231.6L191.2,232.2L191.7,232.8L192.2,230.5L192.7,230.8L193.2,230.3L193.7,232.2L194.2,231.8L194.7,230.9L195.2,231.2L195.7,230.5L196.2,232.2L196.7,231.1L197.2,231.3L197.7,231.2L198.2,229.4L198.7,232.7L199.2,231.8L199.7,232.1L200.2,231.5L200.7,231.3L201.2,232.4L201.7,229.9L202.2,231.3L202.7,231.2L203.2,231.6L203.7,232.1L204.2,232.7L204.7,231.0L205.2,232.4L205.7,231.2L206.2,232.1L206.7,232.2L207.2,232.2L207.7,232.0L208.2,232.1L208.7,231.7L209.2,230.5L209.7,231.8L210.2,231.3L210.7,230.9L211.2,232.3L211.7,232.4L212.2,232.6L212.7,231.4L213.2,231.5L213.7,231.1L214.2,231.6L214.7,229.5L215.2,232.6L215.7,232.2L215.7,232.8Z" fill="#666" stroke="#333" stroke-width="0.3"/>
<path d="M52.0,309.2L52.00,309.2L52.50,307.2L53.00,306.2L53.50,308.0L54.00,306.3L54.50,305.6L55.00,307.4L55.50,305.9L56.00,305.6L56.50,306.0L57.00,304.6L57.50,305.2L58.00,305.3L58.50,305.6L59.00,306.1L59.50,306.9L60.00,306.0L60.50,306.7L61.00,305.9L61.50,304.7L62.00,306.0L62.50,303.4L63.00,304.2L63.50,305.7L64.00,303.3L64.50,306.7L65.00,304.4L65.50,303.5L66.00,303.7L66.50,303.8L67.00,305.0L67.50,304.9L68.00,306.0L68.50,304.6L69.00,304.6L69.50,304.0L70.00,305.1L70.50,304.2L71.00,302.7L71.50,307.1L72.00,305.1L72.50,304.3L73.00,304.0L73.50,305.8L74.00,303.4L74.50,305.1L75.00,305.9L75.50,306.8L76.00,304.1L76.50,304.5L77.00,304.4L77.50,306.6L78.00,305.1L78.50,305.0L79.00,305.7L79.50,304.3L80.00,305.5L80.50,304.1L81.00,306.8L81.50,305.4L82.00,305.0L82.50,306.4L83.00,304.1L83.50,306.6L84.00,305.8L84.50,303.3L85.00,302.4L85.50,300.0L86.00,300.8L86.50,296.5L87.00,293.6L87.50,295.5L88.00,295.3L88.50,294.0L89.00,289.7L89.50,283.0L90.00,282.8L90.50,278.1L91.00,280.6L91.50,279.0L92.00,274.7L92.50,276.9L93.00,273.2L93.50,267.2L94.00,264.8L94.50,258.9L95.00,258.1L95.50,251.1L96.00,248.7L96.50,257.2L97.00,252.2L97.50,248.8L98.00,239.3L98.50,240.7L99.00,241.2L99.50,241.5L100.00,237.2L100.50,234.5L101.00,243.9L101.50,251.1L102.00,237.3L102.50,242.7L103.00,240.6L103.50,245.5L104.00,254.1L104.50,257.0L105.00,245.0L105.50,246.0L106.00,247.6L106.50,254.8L107.00,256.2L107.50,262.7L108.00,259.5L108.50,267.1L109.00,269.7L109.50,267.0L110.00,265.0L110.50,279.3L111.00,272.5L111.50,274.9L112.00,283.2L112.50,279.4L113.00,282.4L113.50,285.6L114.00,286.5L114.50,292.4L115.00,287.1L115.50,287.6L116.00,291.9L116.50,296.1L117.00,295.8L117.50,298.6L118.00,300.4L118.50,301.6L119.00,302.3L119.50,303.9L120.00,306.4L120.50,305.3L121.00,304.7L121.50,304.9L122.00,305.5L122.50,306.7L123.00,307.3L123.50,306.6L124.00,306.9L124.50,307.0L125.00,309.2L125.50,307.1L125.5,309.2Z" fill="#595959" stroke="#1a1a1a" stroke-width="0.7" stroke-linejoin="bevel"/>
<path d="M29.90,271.2L30.30,282.9L30.70,263.6L31.10,240.2L31.50,268.9L31.90,238.2L32.30,275.7L32.70,249.2L33.10,262.4L33.50,244.9L33.90,247.2L34.30,234.5L34.70,237.2L35.10,241.9L35.50,256.0L35.90,241.0L36.30,258.1L36.70,260.8L37.10,252.3L37.50,241.0L37.90,234.0L38.30,247.1L38.70,234.0L39.10,263.0L39.50,256.0L39.90,238.9L40.30,236.4L40.70,234.0L41.10,234.0L41.50,246.7L41.90,234.0L42.30,247.7L42.70,287.0L43.10,267.9L43.50,259.8L43.90,257.1L44.30,254.5L44.70,268.5L45.10,252.3L45.50,275.4L45.90,266.6L46.30,261.8L46.70,279.3L47.10,263.4L47.50,273.3L47.90,276.5L48.30,279.0L48.70,280.5L49.10,286.4L49.50,277.9L49.90,284.2L50.30,296.7L50.70,301.1L51.10,292.3L51.50,302.3L51.90,296.4L52.30,293.1L52.70,300.1L53.10,299.4L53.50,305.1L53.90,301.4L54.30,304.2L54.70,307.1L55.10,308.3L55.50,304.8L55.90,307.7L56.30,308.7L56.70,305.3L57.10,308.6L57.50,307.5L57.90,309.2" fill="none" stroke="#141414" stroke-width="0.9" stroke-linejoin="bevel"/>
<path d="M30.10,258.1L30.50,283.2L30.90,261.4L31.30,240.4L31.70,249.2L32.10,265.7L32.50,256.5L32.90,261.8L33.30,240.2L33.70,266.3L34.10,234.0L34.50,234.0L34.90,234.0L35.30,234.0L35.70,238.4L36.10,235.8L36.50,242.9L36.90,272.6L37.30,243.2L37.70,259.3L38.10,278.2L38.50,234.0L38.90,243.9L39.30,269.4L39.70,240.1L40.10,239.3L40.50,239.6L40.90,234.0L41.30,261.5L41.70,237.5L42.10,262.2L42.50,239.9L42.90,246.7L43.30,261.2L43.70,234.0L44.10,282.2L44.50,279.6L44.90,267.7L45.30,274.0L45.70,258.8L46.10,276.8L46.50,258.9L46.90,275.5L47.30,267.1L47.70,272.0L48.10,276.4L48.50,280.9L48.90,282.5L49.30,276.3L49.70,277.0L50.10,289.6L50.50,284.1L50.90,291.8L51.30,293.5L51.70,287.3L52.10,297.5L52.50,305.2L52.90,305.1L53.30,299.7L53.70,299.4L54.10,303.8L54.50,306.9L54.90,301.1L55.30,303.5L55.70,309.1L56.10,308.5L56.50,306.1L56.90,301.3L57.30,306.8L57.70,309.2L58.10,309.2" fill="none" stroke="#141414" stroke-width="0.9" stroke-linejoin="bevel"/>
<path d="M30.5,309.2L30.5,308.6L31.0,308.6L31.5,308.3L32.0,308.6L32.5,308.1L33.0,308.2L33.5,307.9L34.0,309.1L34.5,309.2L35.0,308.3L35.5,308.3L36.0,309.0L36.5,306.0L37.0,308.3L37.5,307.9L38.0,306.6L38.5,308.8L39.0,305.8L39.5,308.2L40.0,306.7L40.5,308.9L41.0,308.4L41.5,308.6L42.0,308.5L42.5,308.5L43.0,308.0L43.5,307.5L44.0,307.6L44.5,308.8L45.0,308.2L45.5,307.7L46.0,309.1L46.5,306.7L47.0,308.3L47.5,308.9L48.0,307.7L48.5,308.9L49.0,309.0L49.5,309.0L50.0,306.1L50.5,308.7L51.0,308.9L51.5,307.9L52.0,307.8L52.5,306.3L53.0,307.9L53.5,307.7L54.0,307.4L54.5,307.8L55.0,308.8L55.5,306.5L56.0,308.9L56.5,306.3L57.0,308.1L57.5,308.1L58.0,308.4L58.5,307.7L59.0,307.9L59.5,307.2L60.0,308.5L60.5,308.4L61.0,309.0L61.5,309.0L62.0,307.6L62.5,308.4L63.0,306.0L63.5,308.8L64.0,309.1L64.5,307.6L65.0,307.7L65.5,308.5L66.0,306.8L66.5,308.1L67.0,307.8L67.5,308.4L68.0,308.3L68.5,307.3L69.0,309.1L69.5,305.8L70.0,309.0L70.5,308.5L71.0,308.7L71.5,308.4L72.0,308.3L72.5,308.5L73.0,307.1L73.5,309.2L74.0,308.6L74.5,306.9L75.0,308.3L75.5,308.1L76.0,307.3L76.5,308.2L77.0,308.0L77.5,308.0L78.0,308.6L78.5,307.9L79.0,308.7L79.5,307.7L80.0,305.5L80.5,306.6L81.0,309.0L81.5,308.2L82.0,307.1L82.5,308.2L83.0,308.1L83.5,309.0L84.0,308.8L84.5,308.8L85.0,308.8L85.5,305.2L86.0,308.7L86.5,309.1L87.0,308.1L87.5,308.7L88.0,308.9L88.5,305.4L89.0,307.7L89.5,308.2L90.0,308.7L90.5,308.5L91.0,308.0L91.5,307.7L92.0,308.8L92.5,306.8L93.0,308.3L93.5,308.6L94.0,308.1L94.5,309.0L95.0,308.0L95.5,308.2L96.0,308.6L96.5,307.2L97.0,307.1L97.5,308.9L98.0,309.0L98.5,308.0L99.0,307.1L99.5,308.8L100.0,308.3L100.5,307.3L101.0,308.4L101.5,306.4L102.0,309.0L102.5,307.9L103.0,307.9L103.5,308.4L104.0,305.8L104.5,307.8L105.0,308.4L105.5,306.5L106.0,304.8L106.5,308.7L107.0,308.9L107.5,307.1L108.0,307.7L108.5,308.6L109.0,306.6L109.5,308.9L110.0,308.3L110.5,309.1L111.0,306.8L111.5,308.8L112.0,308.9L112.5,307.3L113.0,306.6L113.5,305.9L114.0,309.1L114.5,307.4L115.0,309.1L115.5,305.3L116.0,309.1L116.5,306.7L117.0,308.8L117.5,306.6L118.0,308.7L118.5,305.3L119.0,307.6L119.5,308.7L120.0,306.4L120.5,308.5L121.0,308.2L121.5,306.5L122.0,307.1L122.5,307.3L123.0,306.2L123.5,308.4L124.0,308.1L124.5,307.0L125.0,307.5L125.5,308.6L126.0,308.7L126.5,307.9L127.0,308.7L127.5,308.5L127.5,309.2Z" fill="#666" stroke="#333" stroke-width="0.3"/>
<path d="M165.0,309.2L165.00,307.8L165.50,307.0L166.00,306.5L166.50,306.4L167.00,304.7L167.50,304.9L168.00,303.0L168.50,303.4L169.00,303.9L169.50,304.1L170.00,302.0L170.50,303.5L171.00,300.9L171.50,302.5L172.00,300.8L172.50,300.5L173.00,301.2L173.50,302.1L174.00,300.8L174.50,302.0L175.00,296.8L175.50,299.9L176.00,296.7L176.50,295.6L177.00,294.5L177.50,295.2L178.00,292.3L178.50,289.0L179.00,286.9L179.50,287.0L180.00,278.3L180.50,280.6L181.00,279.7L181.50,281.7L182.00,277.7L182.50,274.3L183.00,281.0L183.50,271.9L184.00,266.1L184.50,251.4L185.00,257.4L185.50,262.3L186.00,260.1L186.50,245.8L187.00,255.6L187.50,254.2L188.00,245.6L188.50,253.9L189.00,255.5L189.50,258.8L190.00,240.3L190.50,235.1L191.00,250.7L191.50,260.5L192.00,258.1L192.50,255.1L193.00,264.3L193.50,272.1L194.00,267.3L194.50,268.3L195.00,275.0L195.50,277.1L196.00,283.0L196.50,291.4L197.00,291.6L197.50,293.1L198.00,295.4L198.50,296.7L199.00,295.8L199.50,299.9L200.00,300.5L200.50,299.6L201.00,300.6L201.50,303.2L202.00,302.3L202.50,304.3L203.00,304.9L203.50,306.6L204.00,305.7L204.50,304.5L205.00,306.3L205.50,306.9L206.00,307.6L206.50,308.6L207.00,306.3L207.50,307.6L208.00,307.0L208.50,307.1L209.00,308.3L209.50,307.5L210.00,309.2L210.50,305.8L211.00,309.2L211.50,308.2L212.00,307.4L212.50,308.8L212.5,309.2Z" fill="#595959" stroke="#1a1a1a" stroke-width="0.7" stroke-linejoin="bevel"/>
<path d="M156.80,266.2L157.20,251.7L157.60,249.6L158.00,268.9L158.40,259.0L158.80,249.8L159.20,248.3L159.60,254.5L160.00,234.9L160.40,253.6L160.80,271.0L161.20,257.0L161.60,262.4L162.00,260.3L162.40,247.0L162.80,250.7L163.20,252.3L163.60,251.3L164.00,246.6L164.40,268.1L164.80,262.2L165.20,250.3L165.60,271.9L166.00,274.7L166.40,270.0L166.80,254.9L167.20,273.2L167.60,259.2L168.00,271.5L168.40,269.6L168.80,267.2L169.20,277.2L169.60,279.1L170.00,263.2L170.40,276.3L170.80,267.1L171.20,272.2L171.60,289.5L172.00,274.9L172.40,283.0L172.80,288.8L173.20,294.8L173.60,294.9L174.00,291.0L174.40,290.1L174.80,296.7L175.20,298.6L175.60,294.4L176.00,294.2L176.40,295.8L176.80,293.9L177.20,301.7L177.60,300.6L178.00,298.3L178.40,299.9L178.80,303.1L179.20,305.5L179.60,306.2L180.00,305.6L180.40,309.2L180.80,309.2L181.20,306.5L181.60,305.5L182.00,308.4L182.40,304.8L182.80,308.5" fill="none" stroke="#141414" stroke-width="0.9" stroke-linejoin="bevel"/>
<path d="M157.00,263.8L157.40,252.8L157.80,254.9L158.20,281.0L158.60,234.7L159.00,246.5L159.40,274.4L159.80,274.1L160.20,249.9L160.60,277.6L161.00,254.8L161.40,275.5L161.80,278.6L162.20,242.2L162.60,242.3L163.00,258.5L163.40,235.3L163.80,249.9L164.20,253.1L164.60,264.3L165.00,252.9L165.40,251.5L165.80,255.0L166.20,245.4L166.60,244.7L167.00,258.5L167.40,273.4L167.80,258.6L168.20,262.2L168.60,277.5L169.00,281.0L169.40,274.6L169.80,284.6L170.20,280.4L170.60,270.8L171.00,266.4L171.40,278.3L171.80,283.9L172.20,288.5L172.60,289.2L173.00,284.9L173.40,293.4L173.80,298.2L174.20,292.1L174.60,297.8L175.00,297.1L175.40,294.5L175.80,299.5L176.20,300.9L176.60,298.4L177.00,301.4L177.40,296.1L177.80,295.6L178.20,298.7L178.60,301.6L179.00,300.0L179.40,301.5L179.80,303.6L180.20,306.2L180.60,304.9L181.00,307.9L181.40,309.2L181.80,308.0L182.20,307.8L182.60,308.5L183.00,309.2" fill="none" stroke="#141414" stroke-width="0.9" stroke-linejoin="bevel"/>
<path d="M157.2,309.2L157.2,307.9L157.7,308.1L158.2,308.0L158.7,307.6L159.2,307.2L159.7,309.0L160.2,307.1L160.7,308.0L161.2,307.2L161.7,308.0L162.2,307.6L162.7,308.5L163.2,307.8L163.7,308.9L164.2,306.7L164.7,309.0L165.2,306.2L165.7,307.7L166.2,307.7L166.7,307.6L167.2,307.4L167.7,309.1L168.2,309.2L168.7,308.7L169.2,308.9L169.7,308.9L170.2,307.8L170.7,307.2L171.2,308.8L171.7,308.4L172.2,308.0L172.7,308.9L173.2,308.3L173.7,307.2L174.2,308.5L174.7,306.8L175.2,308.2L175.7,307.4L176.2,308.9L176.7,308.8L177.2,308.6L177.7,307.9L178.2,308.5L178.7,308.6L179.2,308.7L179.7,308.9L180.2,307.9L180.7,308.4L181.2,308.1L181.7,307.7L182.2,308.7L182.7,308.4L183.2,308.8L183.7,308.8L184.2,307.5L184.7,307.4L185.2,308.9L185.7,308.4L186.2,306.6L186.7,309.1L187.2,308.6L187.7,307.1L188.2,309.1L188.7,308.9L189.2,308.1L189.7,308.8L190.2,308.8L190.7,306.2L191.2,308.2L191.7,307.2L192.2,309.0L192.7,307.6L193.2,308.5L193.7,308.6L194.2,306.8L194.7,308.0L195.2,309.0L195.7,308.7L196.2,308.3L196.7,309.2L197.2,308.7L197.7,308.1L198.2,308.2L198.7,308.6L199.2,308.0L199.7,309.1L200.2,308.9L200.7,308.2L201.2,307.1L201.7,307.6L202.2,309.1L202.7,307.5L203.2,308.7L203.7,309.1L204.2,309.2L204.7,309.1L205.2,308.5L205.7,305.7L206.2,308.2L206.7,309.1L207.2,308.6L207.7,308.7L208.2,308.2L208.7,308.0L209.2,308.5L209.7,307.4L210.2,307.0L210.7,308.6L211.2,308.5L211.7,306.9L212.2,306.5L212.7,308.8L213.2,307.7L213.7,307.1L214.2,309.0L214.7,307.5L214.7,309.2Z" fill="#666" stroke="#333" stroke-width="0.3"/>
<rect x="29.5" y="2.5" width="250.89999999999998" height="306.7" fill="none" stroke="#000" stroke-width="1.5"/>
<line x1="29.5" y1="78.6" x2="280.4" y2="78.6" stroke="#000" stroke-width="1.5"/>
<line x1="29.5" y1="155.9" x2="280.4" y2="155.9" stroke="#000" stroke-width="1.5"/>
<line x1="29.5" y1="232.8" x2="280.4" y2="232.8" stroke="#000" stroke-width="1.5"/>
<line x1="156.2" y1="2.5" x2="156.2" y2="309.2" stroke="#000" stroke-width="1.5"/>
<line x1="29.8" y1="309.2" x2="29.8" y2="314.3" stroke="#000" stroke-width="0.9"/>
<text x="31.0" y="322.2" font-size="8.3" font-family="Liberation Sans, sans-serif" font-weight="bold" stroke="#000" stroke-width="0.3">10<tspan font-size="5" dy="-2.8">0</tspan></text>
<line x1="61.5" y1="309.2" x2="61.5" y2="314.3" stroke="#000" stroke-width="0.9"/>
<text x="62.7" y="322.2" font-size="8.3" font-family="Liberation Sans, sans-serif" font-weight="bold" stroke="#000" stroke-width="0.3">10<tspan font-size="5" dy="-2.8">1</tspan></text>
<line x1="93.2" y1="309.2" x2="93.2" y2="314.3" stroke="#000" stroke-width="0.9"/>
<text x="94.4" y="322.2" font-size="8.3" font-family="Liberation Sans, sans-serif" font-weight="bold" stroke="#000" stroke-width="0.3">10<tspan font-size="5" dy="-2.8">2</tspan></text>
<line x1="124.6" y1="309.2" x2="124.6" y2="314.3" stroke="#000" stroke-width="0.9"/>
<text x="125.8" y="322.2" font-size="8.3" font-family="Liberation Sans, sans-serif" font-weight="bold" stroke="#000" stroke-width="0.3">10<tspan font-size="5" dy="-2.8">3</tspan></text>
<line x1="156.2" y1="309.2" x2="156.2" y2="314.3" stroke="#000" stroke-width="0.9"/>
<text x="157.39999999999998" y="322.2" font-size="8.3" font-family="Liberation Sans, sans-serif" font-weight="bold" stroke="#000" stroke-width="0.3">10<tspan font-size="5" dy="-2.8">0</tspan></text>
<line x1="187.2" y1="309.2" x2="187.2" y2="314.3" stroke="#000" stroke-width="0.9"/>
<text x="188.39999999999998" y="322.2" font-size="8.3" font-family="Liberation Sans, sans-serif" font-weight="bold" stroke="#000" stroke-width="0.3">10<tspan font-size="5" dy="-2.8">1</tspan></text>
<line x1="218.2" y1="309.2" x2="218.2" y2="314.3" stroke="#000" stroke-width="0.9"/>
<text x="219.39999999999998" y="322.2" font-size="8.3" font-family="Liberation Sans, sans-serif" font-weight="bold" stroke="#000" stroke-width="0.3">10<tspan font-size="5" dy="-2.8">2</tspan></text>
<line x1="249.2" y1="309.2" x2="249.2" y2="314.3" stroke="#000" stroke-width="0.9"/>
<text x="250.39999999999998" y="322.2" font-size="8.3" font-family="Liberation Sans, sans-serif" font-weight="bold" stroke="#000" stroke-width="0.3">10<tspan font-size="5" dy="-2.8">3</tspan></text>
<line x1="25" y1="334" x2="288" y2="334" stroke="#000" stroke-width="2.3"/>
<path d="M287,327.9 L299.6,334 L287,340.4 Z" fill="#000"/>
<text x="100.1" y="354.6" font-size="12" font-family="Liberation Sans, sans-serif" font-weight="bold" stroke="#000" stroke-width="0.3" textLength="104.5" lengthAdjust="spacingAndGlyphs">CD25-expression</text>
<text transform="translate(12.4,207) rotate(-90)" x="0" y="0" font-size="12.6" font-family="Liberation Sans, sans-serif" font-weight="bold" stroke="#000" stroke-width="0.3" textLength="130" lengthAdjust="spacingAndGlyphs">Relative cell numbers</text>
<text x="127.3" y="18.5" font-size="8.5" font-family="Liberation Sans, sans-serif" font-weight="bold" stroke="#000" stroke-width="0.3">Med</text>
<text x="247.5" y="13.7" font-size="8.5" font-family="Liberation Sans, sans-serif" font-weight="bold" stroke="#000" stroke-width="0.3">pZ27</text>
<text x="247.0" y="23.8" font-size="8.5" font-family="Liberation Sans, sans-serif" font-weight="bold" stroke="#000" stroke-width="0.3">0.1μm</text>
<text x="118.6" y="91.7" font-size="8.5" font-family="Liberation Sans, sans-serif" font-weight="bold" stroke="#000" stroke-width="0.3">DSP30</text>
<text x="118.3" y="101.6" font-size="8.5" font-family="Liberation Sans, sans-serif" font-weight="bold" stroke="#000" stroke-width="0.3">0.01μm</text>
<text x="251.3" y="92.0" font-size="8.5" font-family="Liberation Sans, sans-serif" font-weight="bold" stroke="#000" stroke-width="0.3">pZ27</text>
<text x="251.5" y="101.9" font-size="8.5" font-family="Liberation Sans, sans-serif" font-weight="bold" stroke="#000" stroke-width="0.3">1 μm</text>
<text x="118.2" y="169.0" font-size="8.5" font-family="Liberation Sans, sans-serif" font-weight="bold" stroke="#000" stroke-width="0.3">DSP30</text>
<text x="118.2" y="179.6" font-size="8.5" font-family="Liberation Sans, sans-serif" font-weight="bold" stroke="#000" stroke-width="0.3">0.1μm</text>
<text x="249.4" y="169.7" font-size="8.5" font-family="Liberation Sans, sans-serif" font-weight="bold" stroke="#000" stroke-width="0.3">C27</text>
<text x="249.4" y="179.9" font-size="8.5" font-family="Liberation Sans, sans-serif" font-weight="bold" stroke="#000" stroke-width="0.3">0.1 μm</text>
<text x="117.7" y="245.5" font-size="8.5" font-family="Liberation Sans, sans-serif" font-weight="bold" stroke="#000" stroke-width="0.3">DSP30</text>
<text x="117.7" y="255.6" font-size="8.5" font-family="Liberation Sans, sans-serif" font-weight="bold" stroke="#000" stroke-width="0.3">1 μm</text>
<text x="251.0" y="246.0" font-size="8.5" font-family="Liberation Sans, sans-serif" font-weight="bold" stroke="#000" stroke-width="0.3">C27</text>
<text x="251.0" y="256.3" font-size="8.5" font-family="Liberation Sans, sans-serif" font-weight="bold" stroke="#000" stroke-width="0.3">1 μm</text>
<text x="314" y="18.6" font-size="25" font-family="Liberation Sans, sans-serif" font-weight="bold">B</text>
<text transform="translate(325,257.9) rotate(-90)" font-size="11.6" font-family="Liberation Sans, sans-serif" font-weight="bold" stroke="#000" stroke-width="0.3" textLength="180" lengthAdjust="spacingAndGlyphs">Mean fluorescence intensity ratio</text>
<line x1="347.3" y1="270.6" x2="353" y2="270.6" stroke="#000" stroke-width="1.8"/>
<text x="346.3" y="274.2" font-size="10" text-anchor="end" font-family="Liberation Sans, sans-serif" font-weight="bold" stroke="#000" stroke-width="0.3">0</text>
<line x1="347.3" y1="232.1" x2="353" y2="232.1" stroke="#000" stroke-width="1.8"/>
<text x="346.3" y="235.7" font-size="10" text-anchor="end" font-family="Liberation Sans, sans-serif" font-weight="bold" stroke="#000" stroke-width="0.3">25</text>
<line x1="347.3" y1="193.6" x2="353" y2="193.6" stroke="#000" stroke-width="1.8"/>
<text x="346.3" y="197.2" font-size="10" text-anchor="end" font-family="Liberation Sans, sans-serif" font-weight="bold" stroke="#000" stroke-width="0.3">50</text>
<line x1="347.3" y1="155.1" x2="353" y2="155.1" stroke="#000" stroke-width="1.8"/>
<text x="346.3" y="158.7" font-size="10" text-anchor="end" font-family="Liberation Sans, sans-serif" font-weight="bold" stroke="#000" stroke-width="0.3">75</text>
<line x1="347.3" y1="116.6" x2="353" y2="116.6" stroke="#000" stroke-width="1.8"/>
<text x="346.3" y="120.2" font-size="10" text-anchor="end" font-family="Liberation Sans, sans-serif" font-weight="bold" stroke="#000" stroke-width="0.3">100</text>
<line x1="347.3" y1="78.1" x2="353" y2="78.1" stroke="#000" stroke-width="1.8"/>
<text x="346.3" y="81.7" font-size="10" text-anchor="end" font-family="Liberation Sans, sans-serif" font-weight="bold" stroke="#000" stroke-width="0.3">125</text>
<line x1="352.5" y1="77.5" x2="352.5" y2="271.6" stroke="#000" stroke-width="2"/>
<line x1="351.5" y1="270.6" x2="519" y2="270.6" stroke="#000" stroke-width="2"/>
<rect x="362.9" y="264.7" width="20.6" height="5.900000000000034" fill="#5e5e5e" stroke="#000" stroke-width="2"/>
<rect x="394.3" y="246" width="20.6" height="24.600000000000023" fill="#5e5e5e" stroke="#000" stroke-width="2"/>
<rect x="425" y="190.7" width="20.6" height="79.90000000000003" fill="#5e5e5e" stroke="#000" stroke-width="2"/>
<rect x="455.5" y="105.8" width="20.6" height="164.8" fill="#5e5e5e" stroke="#000" stroke-width="2"/>
<rect x="486.4" y="137.7" width="20.6" height="132.90000000000003" fill="#5e5e5e" stroke="#000" stroke-width="2"/>
<text x="365.3" y="292.4" font-size="11" font-family="Liberation Sans, sans-serif" font-weight="bold" stroke="#000" stroke-width="0.3" textLength="15.9" lengthAdjust="spacingAndGlyphs">h 0</text>
<text x="398.0" y="292.4" font-size="11" font-family="Liberation Sans, sans-serif" font-weight="bold" stroke="#000" stroke-width="0.3" textLength="15.9" lengthAdjust="spacingAndGlyphs">h 8</text>
<text x="424.7" y="292.4" font-size="11" font-family="Liberation Sans, sans-serif" font-weight="bold" stroke="#000" stroke-width="0.3" textLength="23.3" lengthAdjust="spacingAndGlyphs">h 24</text>
<text x="456.3" y="292.4" font-size="11" font-family="Liberation Sans, sans-serif" font-weight="bold" stroke="#000" stroke-width="0.3" textLength="23.2" lengthAdjust="spacingAndGlyphs">h 48</text>
<text x="488.5" y="292.4" font-size="11" font-family="Liberation Sans, sans-serif" font-weight="bold" stroke="#000" stroke-width="0.3" textLength="23.0" lengthAdjust="spacingAndGlyphs">h 72</text>
<text x="-0.3" y="440.7" font-size="25" font-family="Liberation Sans, sans-serif" font-weight="bold">C</text>
<text transform="translate(90.2,644.3) rotate(-90)" font-size="12.6" font-family="Liberation Sans, sans-serif" font-weight="bold" stroke="#000" stroke-width="0.3" textLength="202.6" lengthAdjust="spacingAndGlyphs">Mean fluorescence intensity ratio</text>
<line x1="119.6" y1="643.0" x2="124.3" y2="643.0" stroke="#000" stroke-width="1.4"/>
<text x="112.5" y="646.6" font-size="10" text-anchor="end" font-family="Liberation Sans, sans-serif" font-weight="bold" stroke="#000" stroke-width="0.3">1</text>
<line x1="119.6" y1="544.6" x2="124.3" y2="544.6" stroke="#000" stroke-width="1.4"/>
<text x="112.5" y="548.2" font-size="10" text-anchor="end" font-family="Liberation Sans, sans-serif" font-weight="bold" stroke="#000" stroke-width="0.3">10</text>
<line x1="119.6" y1="446.0" x2="124.3" y2="446.0" stroke="#000" stroke-width="1.4"/>
<text x="112.5" y="449.6" font-size="10" text-anchor="end" font-family="Liberation Sans, sans-serif" font-weight="bold" stroke="#000" stroke-width="0.3">100</text>
<line x1="123.9" y1="445.3" x2="123.9" y2="643.6" stroke="#000" stroke-width="1.4"/>
<line x1="119.6" y1="643.3" x2="440" y2="643.3" stroke="#000" stroke-width="1.6"/>
<rect x="128.80" y="592.6" width="6.8" height="50.7" fill="#cbcbcb" stroke="#000" stroke-width="1.3"/>
<rect x="136.00" y="479.7" width="8.9" height="163.6" fill="#000"/>
<text x="127.90" y="654.8" font-size="6.7" font-family="Liberation Sans, sans-serif" font-weight="bold">no. 1</text>
<rect x="152.90" y="548.8" width="6.8" height="94.5" fill="#cbcbcb" stroke="#000" stroke-width="1.3"/>
<rect x="160.10" y="481.5" width="8.9" height="161.8" fill="#000"/>
<text x="152.00" y="654.8" font-size="6.7" font-family="Liberation Sans, sans-serif" font-weight="bold">no. 2</text>
<rect x="177.00" y="602.3" width="6.8" height="41.0" fill="#cbcbcb" stroke="#000" stroke-width="1.3"/>
<rect x="184.20" y="519.0" width="8.9" height="124.3" fill="#000"/>
<text x="176.10" y="654.8" font-size="6.7" font-family="Liberation Sans, sans-serif" font-weight="bold">no. 3</text>
<rect x="201.10" y="596.8" width="6.8" height="46.5" fill="#cbcbcb" stroke="#000" stroke-width="1.3"/>
<rect x="208.30" y="475.0" width="8.9" height="168.3" fill="#000"/>
<text x="200.20" y="654.8" font-size="6.7" font-family="Liberation Sans, sans-serif" font-weight="bold">no. 4</text>
<rect x="225.20" y="579.4" width="6.8" height="63.9" fill="#cbcbcb" stroke="#000" stroke-width="1.3"/>
<rect x="232.40" y="464.2" width="8.9" height="179.1" fill="#000"/>
<text x="224.30" y="654.8" font-size="6.7" font-family="Liberation Sans, sans-serif" font-weight="bold">no.5</text>
<rect x="249.30" y="614.4" width="6.8" height="28.9" fill="#cbcbcb" stroke="#000" stroke-width="1.3"/>
<rect x="256.50" y="515.1" width="8.9" height="128.2" fill="#000"/>
<text x="248.40" y="654.8" font-size="6.7" font-family="Liberation Sans, sans-serif" font-weight="bold">no. 6</text>
<rect x="280.60" y="504.6" width="8.9" height="138.7" fill="#000"/>
<text x="272.50" y="654.8" font-size="6.7" font-family="Liberation Sans, sans-serif" font-weight="bold">no. 7</text>
<rect x="297.50" y="573.3" width="6.8" height="70.0" fill="#cbcbcb" stroke="#000" stroke-width="1.3"/>
<rect x="304.70" y="476.2" width="8.9" height="167.1" fill="#000"/>
<text x="296.60" y="654.8" font-size="6.7" font-family="Liberation Sans, sans-serif" font-weight="bold">no. 9</text>
<rect x="321.60" y="555.6" width="6.8" height="87.7" fill="#cbcbcb" stroke="#000" stroke-width="1.3"/>
<rect x="328.80" y="450.8" width="8.9" height="192.5" fill="#000"/>
<text x="320.70" y="654.8" font-size="6.7" font-family="Liberation Sans, sans-serif" font-weight="bold">no. 10</text>
<rect x="345.70" y="535.9" width="6.8" height="107.4" fill="#cbcbcb" stroke="#000" stroke-width="1.3"/>
<rect x="352.90" y="458.2" width="8.9" height="185.1" fill="#000"/>
<text x="344.80" y="654.8" font-size="6.7" font-family="Liberation Sans, sans-serif" font-weight="bold">no. 11</text>
<rect x="369.80" y="639.6" width="6.8" height="3.7" fill="#cbcbcb" stroke="#000" stroke-width="1.3"/>
<rect x="377.00" y="639.0" width="8.9" height="4.3" fill="#000"/>
<text x="368.90" y="654.8" font-size="6.7" font-family="Liberation Sans, sans-serif" font-weight="bold">no.13</text>
<rect x="393.90" y="616.2" width="6.8" height="27.1" fill="#cbcbcb" stroke="#000" stroke-width="1.3"/>
<rect x="401.10" y="549.7" width="8.9" height="93.6" fill="#000"/>
<text x="393.00" y="654.8" font-size="6.7" font-family="Liberation Sans, sans-serif" font-weight="bold">no.14</text>
<rect x="418.00" y="568.3" width="6.8" height="75.0" fill="#cbcbcb" stroke="#000" stroke-width="1.3"/>
<rect x="425.20" y="472.9" width="8.9" height="170.4" fill="#000"/>
<text x="417.10" y="654.8" font-size="6.7" font-family="Liberation Sans, sans-serif" font-weight="bold">no. 15</text>
</svg>
</body></html>
